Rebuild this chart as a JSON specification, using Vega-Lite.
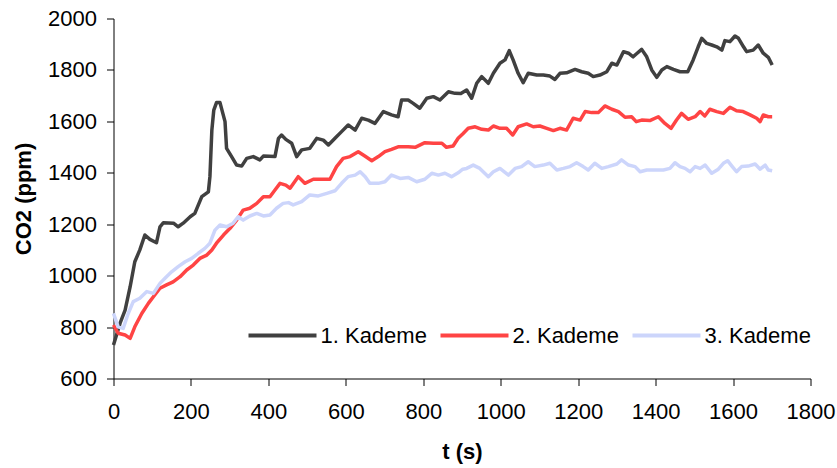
{
  "$schema": "https://vega.github.io/schema/vega-lite/v6.json",
  "width": 697,
  "height": 360,
  "autosize": {"type": "none"},
  "padding": {"left": 113.5, "top": 18.5, "right": 26.5, "bottom": 89.5},
  "background": "white",
  "config": {
    "view": {"stroke": null},
    "font": "Liberation Sans",
    "axis": {
      "grid": false,
      "domainColor": "black",
      "domainWidth": 1,
      "tickColor": "black",
      "tickWidth": 1,
      "tickSize": 7,
      "format": "d",
      "labelFont": "Liberation Sans",
      "labelFontSize": 22,
      "labelColor": "black",
      "labelFlush": false,
      "labelOverlap": false,
      "titleFont": "Liberation Sans",
      "titleFontSize": 22,
      "titleFontWeight": "bold",
      "titleColor": "black"
    }
  },
  "data": {
    "values": [
      {"t": 0, "c": 730, "k": "1. Kademe"},
      {"t": 17, "c": 815, "k": "1. Kademe"},
      {"t": 30, "c": 866, "k": "1. Kademe"},
      {"t": 43, "c": 957, "k": "1. Kademe"},
      {"t": 55, "c": 1054, "k": "1. Kademe"},
      {"t": 68, "c": 1100, "k": "1. Kademe"},
      {"t": 81, "c": 1158, "k": "1. Kademe"},
      {"t": 94, "c": 1141, "k": "1. Kademe"},
      {"t": 111, "c": 1128, "k": "1. Kademe"},
      {"t": 120, "c": 1190, "k": "1. Kademe"},
      {"t": 129, "c": 1206, "k": "1. Kademe"},
      {"t": 155, "c": 1204, "k": "1. Kademe"},
      {"t": 167, "c": 1190, "k": "1. Kademe"},
      {"t": 180, "c": 1204, "k": "1. Kademe"},
      {"t": 198, "c": 1229, "k": "1. Kademe"},
      {"t": 210, "c": 1242, "k": "1. Kademe"},
      {"t": 228, "c": 1307, "k": "1. Kademe"},
      {"t": 245, "c": 1326, "k": "1. Kademe"},
      {"t": 249, "c": 1385, "k": "1. Kademe"},
      {"t": 254, "c": 1566, "k": "1. Kademe"},
      {"t": 259, "c": 1644, "k": "1. Kademe"},
      {"t": 266, "c": 1673, "k": "1. Kademe"},
      {"t": 275, "c": 1673, "k": "1. Kademe"},
      {"t": 288, "c": 1599, "k": "1. Kademe"},
      {"t": 292, "c": 1495, "k": "1. Kademe"},
      {"t": 305, "c": 1463, "k": "1. Kademe"},
      {"t": 318, "c": 1430, "k": "1. Kademe"},
      {"t": 331, "c": 1426, "k": "1. Kademe"},
      {"t": 344, "c": 1456, "k": "1. Kademe"},
      {"t": 361, "c": 1463, "k": "1. Kademe"},
      {"t": 378, "c": 1450, "k": "1. Kademe"},
      {"t": 387, "c": 1465, "k": "1. Kademe"},
      {"t": 417, "c": 1463, "k": "1. Kademe"},
      {"t": 426, "c": 1534, "k": "1. Kademe"},
      {"t": 434, "c": 1547, "k": "1. Kademe"},
      {"t": 445, "c": 1530, "k": "1. Kademe"},
      {"t": 460, "c": 1515, "k": "1. Kademe"},
      {"t": 473, "c": 1463, "k": "1. Kademe"},
      {"t": 486, "c": 1489, "k": "1. Kademe"},
      {"t": 507, "c": 1495, "k": "1. Kademe"},
      {"t": 525, "c": 1534, "k": "1. Kademe"},
      {"t": 542, "c": 1527, "k": "1. Kademe"},
      {"t": 555, "c": 1508, "k": "1. Kademe"},
      {"t": 572, "c": 1534, "k": "1. Kademe"},
      {"t": 589, "c": 1560, "k": "1. Kademe"},
      {"t": 606, "c": 1586, "k": "1. Kademe"},
      {"t": 624, "c": 1566, "k": "1. Kademe"},
      {"t": 641, "c": 1612, "k": "1. Kademe"},
      {"t": 658, "c": 1605, "k": "1. Kademe"},
      {"t": 675, "c": 1592, "k": "1. Kademe"},
      {"t": 697, "c": 1638, "k": "1. Kademe"},
      {"t": 718, "c": 1625, "k": "1. Kademe"},
      {"t": 735, "c": 1618, "k": "1. Kademe"},
      {"t": 744, "c": 1683, "k": "1. Kademe"},
      {"t": 761, "c": 1683, "k": "1. Kademe"},
      {"t": 774, "c": 1670, "k": "1. Kademe"},
      {"t": 791, "c": 1651, "k": "1. Kademe"},
      {"t": 809, "c": 1690, "k": "1. Kademe"},
      {"t": 826, "c": 1696, "k": "1. Kademe"},
      {"t": 843, "c": 1683, "k": "1. Kademe"},
      {"t": 865, "c": 1715, "k": "1. Kademe"},
      {"t": 882, "c": 1709, "k": "1. Kademe"},
      {"t": 897, "c": 1708, "k": "1. Kademe"},
      {"t": 912, "c": 1722, "k": "1. Kademe"},
      {"t": 925, "c": 1690, "k": "1. Kademe"},
      {"t": 938, "c": 1748, "k": "1. Kademe"},
      {"t": 951, "c": 1774, "k": "1. Kademe"},
      {"t": 968, "c": 1748, "k": "1. Kademe"},
      {"t": 981, "c": 1787, "k": "1. Kademe"},
      {"t": 998, "c": 1826, "k": "1. Kademe"},
      {"t": 1011, "c": 1839, "k": "1. Kademe"},
      {"t": 1022, "c": 1875, "k": "1. Kademe"},
      {"t": 1032, "c": 1839, "k": "1. Kademe"},
      {"t": 1045, "c": 1787, "k": "1. Kademe"},
      {"t": 1058, "c": 1750, "k": "1. Kademe"},
      {"t": 1071, "c": 1787, "k": "1. Kademe"},
      {"t": 1093, "c": 1780, "k": "1. Kademe"},
      {"t": 1110, "c": 1780, "k": "1. Kademe"},
      {"t": 1127, "c": 1776, "k": "1. Kademe"},
      {"t": 1140, "c": 1763, "k": "1. Kademe"},
      {"t": 1153, "c": 1787, "k": "1. Kademe"},
      {"t": 1170, "c": 1789, "k": "1. Kademe"},
      {"t": 1192, "c": 1802, "k": "1. Kademe"},
      {"t": 1209, "c": 1793, "k": "1. Kademe"},
      {"t": 1226, "c": 1787, "k": "1. Kademe"},
      {"t": 1239, "c": 1774, "k": "1. Kademe"},
      {"t": 1256, "c": 1780, "k": "1. Kademe"},
      {"t": 1274, "c": 1793, "k": "1. Kademe"},
      {"t": 1287, "c": 1826, "k": "1. Kademe"},
      {"t": 1300, "c": 1819, "k": "1. Kademe"},
      {"t": 1317, "c": 1871, "k": "1. Kademe"},
      {"t": 1330, "c": 1865, "k": "1. Kademe"},
      {"t": 1342, "c": 1851, "k": "1. Kademe"},
      {"t": 1350, "c": 1862, "k": "1. Kademe"},
      {"t": 1364, "c": 1880, "k": "1. Kademe"},
      {"t": 1377, "c": 1851, "k": "1. Kademe"},
      {"t": 1390, "c": 1800, "k": "1. Kademe"},
      {"t": 1403, "c": 1771, "k": "1. Kademe"},
      {"t": 1416, "c": 1800, "k": "1. Kademe"},
      {"t": 1429, "c": 1813, "k": "1. Kademe"},
      {"t": 1446, "c": 1802, "k": "1. Kademe"},
      {"t": 1463, "c": 1793, "k": "1. Kademe"},
      {"t": 1483, "c": 1793, "k": "1. Kademe"},
      {"t": 1497, "c": 1839, "k": "1. Kademe"},
      {"t": 1510, "c": 1890, "k": "1. Kademe"},
      {"t": 1519, "c": 1923, "k": "1. Kademe"},
      {"t": 1532, "c": 1903, "k": "1. Kademe"},
      {"t": 1545, "c": 1897, "k": "1. Kademe"},
      {"t": 1558, "c": 1890, "k": "1. Kademe"},
      {"t": 1571, "c": 1877, "k": "1. Kademe"},
      {"t": 1579, "c": 1914, "k": "1. Kademe"},
      {"t": 1592, "c": 1910, "k": "1. Kademe"},
      {"t": 1605, "c": 1932, "k": "1. Kademe"},
      {"t": 1614, "c": 1923, "k": "1. Kademe"},
      {"t": 1627, "c": 1890, "k": "1. Kademe"},
      {"t": 1635, "c": 1871, "k": "1. Kademe"},
      {"t": 1652, "c": 1877, "k": "1. Kademe"},
      {"t": 1665, "c": 1897, "k": "1. Kademe"},
      {"t": 1678, "c": 1865, "k": "1. Kademe"},
      {"t": 1691, "c": 1849, "k": "1. Kademe"},
      {"t": 1701, "c": 1819, "k": "1. Kademe"},

      {"t": 0, "c": 808, "k": "2. Kademe"},
      {"t": 12, "c": 776, "k": "2. Kademe"},
      {"t": 30, "c": 769, "k": "2. Kademe"},
      {"t": 43, "c": 756, "k": "2. Kademe"},
      {"t": 55, "c": 801, "k": "2. Kademe"},
      {"t": 73, "c": 853, "k": "2. Kademe"},
      {"t": 90, "c": 892, "k": "2. Kademe"},
      {"t": 103, "c": 918, "k": "2. Kademe"},
      {"t": 120, "c": 951, "k": "2. Kademe"},
      {"t": 137, "c": 964, "k": "2. Kademe"},
      {"t": 154, "c": 976, "k": "2. Kademe"},
      {"t": 172, "c": 996, "k": "2. Kademe"},
      {"t": 189, "c": 1022, "k": "2. Kademe"},
      {"t": 206, "c": 1041, "k": "2. Kademe"},
      {"t": 223, "c": 1067, "k": "2. Kademe"},
      {"t": 241, "c": 1080, "k": "2. Kademe"},
      {"t": 254, "c": 1100, "k": "2. Kademe"},
      {"t": 266, "c": 1126, "k": "2. Kademe"},
      {"t": 284, "c": 1158, "k": "2. Kademe"},
      {"t": 301, "c": 1184, "k": "2. Kademe"},
      {"t": 318, "c": 1216, "k": "2. Kademe"},
      {"t": 335, "c": 1255, "k": "2. Kademe"},
      {"t": 352, "c": 1262, "k": "2. Kademe"},
      {"t": 370, "c": 1281, "k": "2. Kademe"},
      {"t": 387, "c": 1307, "k": "2. Kademe"},
      {"t": 404, "c": 1307, "k": "2. Kademe"},
      {"t": 417, "c": 1333, "k": "2. Kademe"},
      {"t": 430, "c": 1359, "k": "2. Kademe"},
      {"t": 445, "c": 1352, "k": "2. Kademe"},
      {"t": 456, "c": 1340, "k": "2. Kademe"},
      {"t": 477, "c": 1385, "k": "2. Kademe"},
      {"t": 494, "c": 1359, "k": "2. Kademe"},
      {"t": 516, "c": 1375, "k": "2. Kademe"},
      {"t": 538, "c": 1375, "k": "2. Kademe"},
      {"t": 559, "c": 1375, "k": "2. Kademe"},
      {"t": 576, "c": 1424, "k": "2. Kademe"},
      {"t": 593, "c": 1456, "k": "2. Kademe"},
      {"t": 611, "c": 1463, "k": "2. Kademe"},
      {"t": 632, "c": 1482, "k": "2. Kademe"},
      {"t": 649, "c": 1465, "k": "2. Kademe"},
      {"t": 667, "c": 1447, "k": "2. Kademe"},
      {"t": 684, "c": 1463, "k": "2. Kademe"},
      {"t": 701, "c": 1482, "k": "2. Kademe"},
      {"t": 718, "c": 1491, "k": "2. Kademe"},
      {"t": 735, "c": 1501, "k": "2. Kademe"},
      {"t": 761, "c": 1501, "k": "2. Kademe"},
      {"t": 779, "c": 1499, "k": "2. Kademe"},
      {"t": 804, "c": 1517, "k": "2. Kademe"},
      {"t": 826, "c": 1515, "k": "2. Kademe"},
      {"t": 848, "c": 1515, "k": "2. Kademe"},
      {"t": 860, "c": 1499, "k": "2. Kademe"},
      {"t": 877, "c": 1504, "k": "2. Kademe"},
      {"t": 890, "c": 1534, "k": "2. Kademe"},
      {"t": 903, "c": 1553, "k": "2. Kademe"},
      {"t": 916, "c": 1573, "k": "2. Kademe"},
      {"t": 934, "c": 1579, "k": "2. Kademe"},
      {"t": 951, "c": 1569, "k": "2. Kademe"},
      {"t": 968, "c": 1566, "k": "2. Kademe"},
      {"t": 981, "c": 1582, "k": "2. Kademe"},
      {"t": 998, "c": 1573, "k": "2. Kademe"},
      {"t": 1015, "c": 1573, "k": "2. Kademe"},
      {"t": 1031, "c": 1547, "k": "2. Kademe"},
      {"t": 1045, "c": 1579, "k": "2. Kademe"},
      {"t": 1067, "c": 1590, "k": "2. Kademe"},
      {"t": 1084, "c": 1579, "k": "2. Kademe"},
      {"t": 1101, "c": 1582, "k": "2. Kademe"},
      {"t": 1119, "c": 1573, "k": "2. Kademe"},
      {"t": 1136, "c": 1564, "k": "2. Kademe"},
      {"t": 1153, "c": 1573, "k": "2. Kademe"},
      {"t": 1170, "c": 1566, "k": "2. Kademe"},
      {"t": 1187, "c": 1612, "k": "2. Kademe"},
      {"t": 1205, "c": 1605, "k": "2. Kademe"},
      {"t": 1218, "c": 1638, "k": "2. Kademe"},
      {"t": 1235, "c": 1634, "k": "2. Kademe"},
      {"t": 1252, "c": 1634, "k": "2. Kademe"},
      {"t": 1269, "c": 1660, "k": "2. Kademe"},
      {"t": 1287, "c": 1647, "k": "2. Kademe"},
      {"t": 1304, "c": 1638, "k": "2. Kademe"},
      {"t": 1321, "c": 1616, "k": "2. Kademe"},
      {"t": 1338, "c": 1618, "k": "2. Kademe"},
      {"t": 1350, "c": 1599, "k": "2. Kademe"},
      {"t": 1364, "c": 1605, "k": "2. Kademe"},
      {"t": 1385, "c": 1603, "k": "2. Kademe"},
      {"t": 1407, "c": 1618, "k": "2. Kademe"},
      {"t": 1424, "c": 1592, "k": "2. Kademe"},
      {"t": 1440, "c": 1573, "k": "2. Kademe"},
      {"t": 1454, "c": 1605, "k": "2. Kademe"},
      {"t": 1467, "c": 1631, "k": "2. Kademe"},
      {"t": 1484, "c": 1608, "k": "2. Kademe"},
      {"t": 1502, "c": 1618, "k": "2. Kademe"},
      {"t": 1515, "c": 1638, "k": "2. Kademe"},
      {"t": 1527, "c": 1621, "k": "2. Kademe"},
      {"t": 1540, "c": 1647, "k": "2. Kademe"},
      {"t": 1558, "c": 1638, "k": "2. Kademe"},
      {"t": 1575, "c": 1631, "k": "2. Kademe"},
      {"t": 1592, "c": 1655, "k": "2. Kademe"},
      {"t": 1609, "c": 1641, "k": "2. Kademe"},
      {"t": 1626, "c": 1638, "k": "2. Kademe"},
      {"t": 1644, "c": 1625, "k": "2. Kademe"},
      {"t": 1661, "c": 1612, "k": "2. Kademe"},
      {"t": 1670, "c": 1599, "k": "2. Kademe"},
      {"t": 1678, "c": 1625, "k": "2. Kademe"},
      {"t": 1691, "c": 1618, "k": "2. Kademe"},
      {"t": 1701, "c": 1618, "k": "2. Kademe"},

      {"t": 0, "c": 853, "k": "3. Kademe"},
      {"t": 12, "c": 801, "k": "3. Kademe"},
      {"t": 25, "c": 795, "k": "3. Kademe"},
      {"t": 38, "c": 853, "k": "3. Kademe"},
      {"t": 51, "c": 899, "k": "3. Kademe"},
      {"t": 68, "c": 912, "k": "3. Kademe"},
      {"t": 86, "c": 938, "k": "3. Kademe"},
      {"t": 103, "c": 931, "k": "3. Kademe"},
      {"t": 120, "c": 970, "k": "3. Kademe"},
      {"t": 133, "c": 990, "k": "3. Kademe"},
      {"t": 150, "c": 1015, "k": "3. Kademe"},
      {"t": 167, "c": 1035, "k": "3. Kademe"},
      {"t": 185, "c": 1054, "k": "3. Kademe"},
      {"t": 202, "c": 1067, "k": "3. Kademe"},
      {"t": 219, "c": 1087, "k": "3. Kademe"},
      {"t": 236, "c": 1106, "k": "3. Kademe"},
      {"t": 249, "c": 1126, "k": "3. Kademe"},
      {"t": 262, "c": 1177, "k": "3. Kademe"},
      {"t": 275, "c": 1197, "k": "3. Kademe"},
      {"t": 292, "c": 1190, "k": "3. Kademe"},
      {"t": 309, "c": 1204, "k": "3. Kademe"},
      {"t": 322, "c": 1229, "k": "3. Kademe"},
      {"t": 335, "c": 1216, "k": "3. Kademe"},
      {"t": 352, "c": 1232, "k": "3. Kademe"},
      {"t": 370, "c": 1242, "k": "3. Kademe"},
      {"t": 387, "c": 1232, "k": "3. Kademe"},
      {"t": 404, "c": 1236, "k": "3. Kademe"},
      {"t": 421, "c": 1262, "k": "3. Kademe"},
      {"t": 438, "c": 1281, "k": "3. Kademe"},
      {"t": 452, "c": 1284, "k": "3. Kademe"},
      {"t": 464, "c": 1275, "k": "3. Kademe"},
      {"t": 486, "c": 1288, "k": "3. Kademe"},
      {"t": 507, "c": 1314, "k": "3. Kademe"},
      {"t": 529, "c": 1310, "k": "3. Kademe"},
      {"t": 551, "c": 1320, "k": "3. Kademe"},
      {"t": 572, "c": 1330, "k": "3. Kademe"},
      {"t": 589, "c": 1359, "k": "3. Kademe"},
      {"t": 606, "c": 1385, "k": "3. Kademe"},
      {"t": 624, "c": 1391, "k": "3. Kademe"},
      {"t": 637, "c": 1404, "k": "3. Kademe"},
      {"t": 650, "c": 1385, "k": "3. Kademe"},
      {"t": 662, "c": 1359, "k": "3. Kademe"},
      {"t": 684, "c": 1359, "k": "3. Kademe"},
      {"t": 701, "c": 1365, "k": "3. Kademe"},
      {"t": 718, "c": 1391, "k": "3. Kademe"},
      {"t": 740, "c": 1378, "k": "3. Kademe"},
      {"t": 761, "c": 1382, "k": "3. Kademe"},
      {"t": 783, "c": 1365, "k": "3. Kademe"},
      {"t": 804, "c": 1375, "k": "3. Kademe"},
      {"t": 822, "c": 1398, "k": "3. Kademe"},
      {"t": 839, "c": 1391, "k": "3. Kademe"},
      {"t": 856, "c": 1398, "k": "3. Kademe"},
      {"t": 873, "c": 1385, "k": "3. Kademe"},
      {"t": 890, "c": 1400, "k": "3. Kademe"},
      {"t": 902, "c": 1414, "k": "3. Kademe"},
      {"t": 912, "c": 1417, "k": "3. Kademe"},
      {"t": 929, "c": 1430, "k": "3. Kademe"},
      {"t": 946, "c": 1417, "k": "3. Kademe"},
      {"t": 968, "c": 1385, "k": "3. Kademe"},
      {"t": 981, "c": 1404, "k": "3. Kademe"},
      {"t": 998, "c": 1417, "k": "3. Kademe"},
      {"t": 1020, "c": 1391, "k": "3. Kademe"},
      {"t": 1037, "c": 1417, "k": "3. Kademe"},
      {"t": 1054, "c": 1424, "k": "3. Kademe"},
      {"t": 1071, "c": 1443, "k": "3. Kademe"},
      {"t": 1088, "c": 1424, "k": "3. Kademe"},
      {"t": 1110, "c": 1430, "k": "3. Kademe"},
      {"t": 1127, "c": 1437, "k": "3. Kademe"},
      {"t": 1145, "c": 1411, "k": "3. Kademe"},
      {"t": 1162, "c": 1417, "k": "3. Kademe"},
      {"t": 1179, "c": 1424, "k": "3. Kademe"},
      {"t": 1196, "c": 1439, "k": "3. Kademe"},
      {"t": 1213, "c": 1424, "k": "3. Kademe"},
      {"t": 1226, "c": 1411, "k": "3. Kademe"},
      {"t": 1243, "c": 1437, "k": "3. Kademe"},
      {"t": 1261, "c": 1417, "k": "3. Kademe"},
      {"t": 1278, "c": 1424, "k": "3. Kademe"},
      {"t": 1300, "c": 1434, "k": "3. Kademe"},
      {"t": 1312, "c": 1450, "k": "3. Kademe"},
      {"t": 1330, "c": 1430, "k": "3. Kademe"},
      {"t": 1347, "c": 1424, "k": "3. Kademe"},
      {"t": 1360, "c": 1404, "k": "3. Kademe"},
      {"t": 1377, "c": 1411, "k": "3. Kademe"},
      {"t": 1398, "c": 1411, "k": "3. Kademe"},
      {"t": 1420, "c": 1411, "k": "3. Kademe"},
      {"t": 1437, "c": 1417, "k": "3. Kademe"},
      {"t": 1450, "c": 1439, "k": "3. Kademe"},
      {"t": 1463, "c": 1424, "k": "3. Kademe"},
      {"t": 1476, "c": 1417, "k": "3. Kademe"},
      {"t": 1489, "c": 1404, "k": "3. Kademe"},
      {"t": 1502, "c": 1424, "k": "3. Kademe"},
      {"t": 1515, "c": 1417, "k": "3. Kademe"},
      {"t": 1528, "c": 1430, "k": "3. Kademe"},
      {"t": 1545, "c": 1398, "k": "3. Kademe"},
      {"t": 1562, "c": 1414, "k": "3. Kademe"},
      {"t": 1575, "c": 1437, "k": "3. Kademe"},
      {"t": 1586, "c": 1447, "k": "3. Kademe"},
      {"t": 1597, "c": 1426, "k": "3. Kademe"},
      {"t": 1609, "c": 1404, "k": "3. Kademe"},
      {"t": 1622, "c": 1424, "k": "3. Kademe"},
      {"t": 1639, "c": 1426, "k": "3. Kademe"},
      {"t": 1657, "c": 1434, "k": "3. Kademe"},
      {"t": 1670, "c": 1414, "k": "3. Kademe"},
      {"t": 1683, "c": 1430, "k": "3. Kademe"},
      {"t": 1691, "c": 1411, "k": "3. Kademe"},
      {"t": 1701, "c": 1408, "k": "3. Kademe"}
    ]
  },
  "mark": {"type": "line", "strokeWidth": 3.5, "strokeJoin": "round"},
  "encoding": {
    "x": {
      "field": "t",
      "type": "quantitative",
      "scale": {"domain": [0, 1800], "nice": false, "zero": false},
      "axis": {
        "title": "t (s)",
        "values": [0, 200, 400, 600, 800, 1000, 1200, 1400, 1600, 1800],
        "labelPadding": 16,
        "titleY": 79.5,
        "titleBaseline": "alphabetic"
      }
    },
    "y": {
      "field": "c",
      "type": "quantitative",
      "scale": {"domain": [600, 2000], "nice": false, "zero": false},
      "axis": {
        "title": "CO2 (ppm)",
        "values": [600, 800, 1000, 1200, 1400, 1600, 1800, 2000],
        "labelPadding": 10,
        "titleAngle": -90,
        "titleX": -83,
        "titleY": 180,
        "titleAlign": "center",
        "titleBaseline": "alphabetic"
      }
    },
    "color": {
      "field": "k",
      "type": "nominal",
      "scale": {
        "domain": ["1. Kademe", "2. Kademe", "3. Kademe"],
        "range": ["#404040", "#ff4444", "#ccd5fb"]
      },
      "legend": {
        "orient": "none",
        "legendX": 133,
        "legendY": 281,
        "direction": "horizontal",
        "title": null,
        "symbolType": "stroke",
        "symbolSize": 4624,
        "symbolStrokeWidth": 4,
        "labelFont": "Liberation Sans",
        "labelFontSize": 22,
        "labelColor": "black",
        "labelOffset": 2,
        "gridAlign": "all",
        "columnPadding": 5,
        "padding": 0,
        "labelLimit": 300
      }
    }
  }
}
